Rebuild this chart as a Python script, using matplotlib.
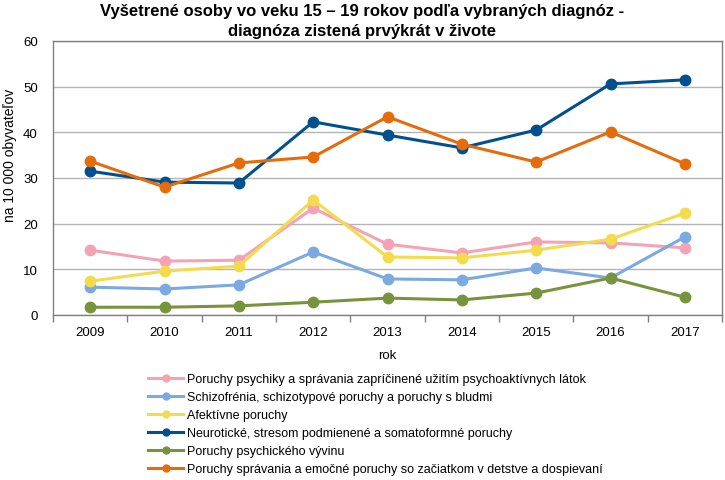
import matplotlib
matplotlib.use("Agg")
import matplotlib.pyplot as plt
from matplotlib.lines import Line2D

plt.rcParams['font.family'] = ['Liberation Sans', 'DejaVu Sans']

years = ["2009", "2010", "2011", "2012", "2013", "2014", "2015", "2016", "2017"]
labels = [
    "Poruchy psychiky a správania zapríčinené užitím psychoaktívnych látok",
    "Schizofrénia, schizotypové poruchy a poruchy s bludmi",
    "Afektívne poruchy",
    "Neurotické, stresom podmienené a somatoformné poruchy",
    "Poruchy psychického vývinu",
    "Poruchy správania a emočné poruchy so začiatkom v detstve a dospievaní",
]
psychoaktivne = [14.2, 11.8, 12.0, 23.4, 15.5, 13.6, 16.0, 15.8, 14.7]
schizofrenia = [6.1, 5.7, 6.6, 13.8, 7.9, 7.7, 10.3, 8.1, 17.1]
afektivne = [7.4, 9.6, 10.7, 25.2, 12.7, 12.5, 14.2, 16.6, 22.3]
neuroticke = [31.5, 29.1, 28.9, 42.3, 39.4, 36.6, 40.5, 50.6, 51.5]
vyvin = [1.7, 1.7, 2.0, 2.8, 3.7, 3.3, 4.8, 8.1, 3.9]
spravanie = [33.7, 28.0, 33.3, 34.6, 43.4, 37.4, 33.5, 40.1, 33.1]

series = [psychoaktivne, schizofrenia, afektivne, neuroticke, vyvin, spravanie]
colors = ["#F4A3B4", "#7CA9E0", "#F2DC4E", "#00508F", "#77933C", "#E46C0A"]

fig = plt.figure(figsize=(7.25, 4.81), dpi=100)
ax = fig.add_axes([53/725, 1-316/481, (722-53)/725, (316-42)/481])

x = list(range(len(years)))
for vals, c, lab in zip(series, colors, labels):
    ax.plot(x, vals, color=c, lw=2.2, marker='o', markersize=7.5, label=lab,
            solid_capstyle='round', zorder=3)

ax.set_xlim(-0.5, len(years) - 0.5)
ax.set_ylim(0, 60)
ax.set_yticks(range(0, 61, 10))
ax.set_xticks(x)
ax.set_xticklabels(years)
ax.set_xticks([i - 0.5 for i in range(len(years) + 1)], minor=True)
ax.tick_params(axis='x', which='major', length=0, pad=8, labelsize=9.5)
ax.tick_params(axis='x', which='minor', length=5, color='#808080', width=1)
ax.tick_params(axis='y', length=0, pad=11, labelsize=9.5)
ax.yaxis.grid(True, color='#B4B4B4', lw=1)
ax.set_axisbelow(True)
for s in ax.spines.values():
    s.set_color('#808080')
    s.set_linewidth(1)

ax.set_xlabel("rok", fontsize=9.5, labelpad=8)
ax.set_ylabel("na 10 000 obyvateľov", fontsize=10, labelpad=8)
ax.yaxis.set_label_coords(-0.054, (316-155)/274)

fig.text(0.5, 1-4/481, "Vyšetrené osoby vo veku 15 – 19 rokov podľa vybraných diagnóz -\ndiagnóza zistená prvýkrát v živote",
         ha='center', va='top', fontsize=12, fontweight='bold', linespacing=1.4)

handles = [Line2D([0], [0], color=c, lw=2.2, marker='o', markersize=5) for c in colors]
leg = fig.legend(handles, labels, loc='upper left', bbox_to_anchor=(148/725, 1-374/481),
                 frameon=False, fontsize=9, handlelength=2.8, handletextpad=0.3,
                 labelspacing=0.48, borderpad=0, borderaxespad=0)

fig.savefig("out.png", dpi=100)
